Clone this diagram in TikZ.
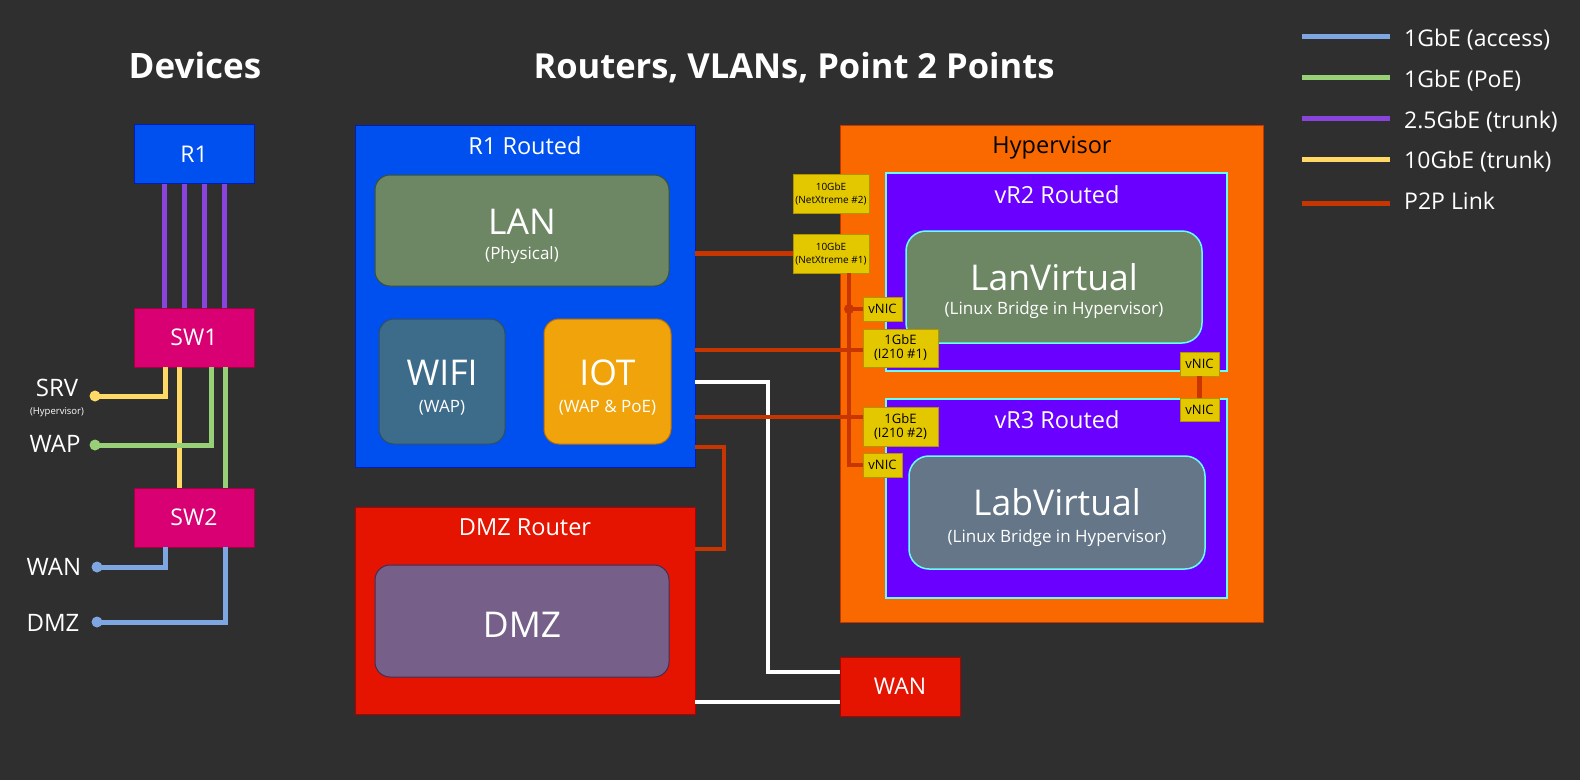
\documentclass[tikz,border=0pt]{standalone}
\usepackage{fontspec}
\setmainfont{Open Sans}
\usetikzlibrary{calc}
\definecolor{bg}{HTML}{2F2F2F}
\definecolor{rblue}{HTML}{0050EF}
\definecolor{rstroke}{HTML}{001DBC}
\definecolor{swfill}{HTML}{D80073}
\definecolor{swstroke}{HTML}{A50040}
\definecolor{lang}{HTML}{6D8764}
\definecolor{langs}{HTML}{3A5431}
\definecolor{wifi}{HTML}{3D6B8A}
\definecolor{wifis}{HTML}{2F4F5F}
\definecolor{iot}{HTML}{F0A30A}
\definecolor{iots}{HTML}{BD7000}
\definecolor{dred}{HTML}{E51400}
\definecolor{dreds}{HTML}{B20000}
\definecolor{dmzp}{HTML}{76608A}
\definecolor{dmzps}{HTML}{432D57}
\definecolor{hyp}{HTML}{FA6800}
\definecolor{hyps}{HTML}{C73500}
\definecolor{vr}{HTML}{6A00FF}
\definecolor{cyanl}{HTML}{66FFFF}
\definecolor{labg}{HTML}{647687}
\definecolor{nicf}{HTML}{E3C800}
\definecolor{nics}{HTML}{B09500}
\definecolor{p2pc}{HTML}{C73500}
\definecolor{lpurple}{HTML}{8844DD}
\definecolor{lyellow}{HTML}{FFD966}
\definecolor{lgreen}{HTML}{97D077}
\definecolor{lblue}{HTML}{7EA6E0}
\newcommand\myfs[1]{\fontsize{#1}{#1}\selectfont}
\tikzset{
  base/.style={inner sep=0pt, outer sep=0pt, line width=1pt, text=white},
  devbox/.style={base, minimum width=120, minimum height=59, font={\myfs{23}}},
  vlanbox/.style={base, rounded corners=15pt},
  nic/.style={base, draw=nics, fill=nicf, text=black, line width=0.8pt},
  vrbox/.style={base, draw=cyanl, line width=1.5pt, fill=vr},
  txt/.style={inner sep=0pt, text=white, anchor=base},
  ctitle/.style={txt, font={\myfs{23.5}}},
  sidel/.style={txt, font={\myfs{24}}},
  bigt/.style={txt, font={\myfs{35.5}}},
  subt/.style={txt, font={\myfs{17}}},
  lnk/.style={line width=5pt},
  p2p/.style={draw=p2pc, line width=4.5pt},
  wire/.style={draw=white, line width=4pt},
}
\begin{document}
\begin{tikzpicture}[x=1pt,y=-1pt]
\fill[bg] (0,0) rectangle (1580,780);
\useasboundingbox (0,0) rectangle (1580,780);

% titles
\node[txt, font={\bfseries\myfs{35}}] (tdev) at (195,78) {Devices};
\node[txt, font={\bfseries\myfs{34.5}}] (trout) at (794,78) {Routers, VLANs, Point 2 Points};

% devices
\node[devbox, draw=rstroke, fill=rblue] (r1) at (194,154) {R1};
\node[devbox, draw=swstroke, fill=swfill] (sw1) at (194,337.5) {SW1};
\node[devbox, draw=swstroke, fill=swfill] (sw2) at (194,517.5) {SW2};

\foreach \s in {-30,-10,10,30}
  \draw[lnk, lpurple] ([xshift=\s pt]r1.south) -- ([xshift=\s pt]sw1.north);

\coordinate (srvdot) at (95,396);
\coordinate (wapdot) at (95,445);
\coordinate (wandot) at (97,567);
\coordinate (dmzdot) at (97,622);

\draw[lnk, lyellow] ([xshift=-29pt]sw1.south) |- (srvdot);
\draw[lnk, lyellow] ([xshift=-15pt]sw1.south) -- ([xshift=-15pt]sw2.north);
\draw[lnk, lgreen] ([xshift=17pt]sw1.south) |- (wapdot);
\draw[lnk, lgreen] ([xshift=31pt]sw1.south) -- ([xshift=31pt]sw2.north);
\draw[lnk, lblue] ([xshift=-29pt]sw2.south) |- (wandot);
\draw[lnk, lblue] ([xshift=31pt]sw2.south) |- (dmzdot);
\fill[lyellow] (srvdot) circle (5.5);
\fill[lgreen] (wapdot) circle (5.5);
\fill[lblue] (wandot) circle (5.5);
\fill[lblue] (dmzdot) circle (5.5);

\node[sidel] (lsrv) at (57,396) {SRV};
\node[txt, font={\myfs{9.5}}] (lsrvh) at (57,414) {(Hypervisor)};
\node[sidel] (lwap) at (55,452) {WAP};
\node[sidel] (lwan) at (54,575) {WAN};
\node[sidel] (ldmz) at (53,631) {DMZ};

% R1 routed
\node[base, draw=rstroke, fill=rblue, minimum width=340, minimum height=342] (r1r) at (525,296) {};
\node[ctitle] (r1rT) at (525,154) {R1 Routed};
\node[vlanbox, draw=langs, fill=lang, minimum width=294, minimum height=111] (lan) at (522,230.5) {};
\node[bigt] (lanT) at (522,234) {LAN};
\node[subt] (lanS) at (522,259) {(Physical)};
\node[vlanbox, draw=wifis, fill=wifi, minimum width=126, minimum height=125] (wifi) at (442,381.5) {};
\node[bigt] (wifiT) at (442,385) {WIFI};
\node[subt] (wifiS) at (442,412) {(WAP)};
\node[vlanbox, draw=iots, fill=iot, minimum width=127, minimum height=125] (iot) at (607.5,381.5) {};
\node[bigt] (iotT) at (607.5,385) {IOT};
\node[subt] (iotS) at (607.5,412) {(WAP \& PoE)};

% DMZ router
\node[base, draw=dreds, fill=dred, minimum width=340, minimum height=207] (dmzr) at (525,610.5) {};
\node[ctitle] (dmzrT) at (525,535.5) {DMZ Router};
\node[vlanbox, draw=dmzps, fill=dmzp, minimum width=294, minimum height=112] (dmz) at (522,621) {};
\node[bigt] (dmzT) at (522,637) {DMZ};

% Hypervisor
\node[base, draw=hyps, fill=hyp, minimum width=423, minimum height=497] (hyp) at (1051.5,373.5) {};
\node[ctitle, text=black] (hypT) at (1052,153) {Hypervisor};
\node[vrbox, minimum width=341, minimum height=198] (vr2) at (1056.5,272) {};
\node[ctitle] (vr2T) at (1057,203) {vR2 Routed};
\node[vrbox, minimum width=341, minimum height=199] (vr3) at (1056.5,498.5) {};
\node[ctitle] (vr3T) at (1057,428) {vR3 Routed};
\node[vlanbox, draw=cyanl, line width=1.5pt, fill=lang, rounded corners=20pt, minimum width=296, minimum height=112] (lanv) at (1054,287) {};
\node[bigt] (lanvT) at (1054,290) {LanVirtual};
\node[subt] (lanvS) at (1054,314) {(Linux Bridge in Hypervisor)};
\node[vlanbox, draw=cyanl, line width=1.5pt, fill=labg, rounded corners=20pt, minimum width=296, minimum height=113] (labv) at (1057,512.5) {};
\node[bigt] (labvT) at (1057,515) {LabVirtual};
\node[subt] (labvS) at (1057,542) {(Linux Bridge in Hypervisor)};

% WAN
\node[devbox, draw=dreds, fill=dred, minimum width=120, minimum height=59] (wan) at (900,686.5) {WAN};

% NIC labels
\node[nic, minimum width=76, minimum height=39, align=center, font={\myfs{10}}] (nx2) at (831,193.5) {10GbE\\[3pt](NetXtreme \#2)};
\node[nic, minimum width=76, minimum height=39, align=center, font={\myfs{10}}] (nx1) at (831,253.5) {10GbE\\[3pt](NetXtreme \#1)};
\node[nic, minimum width=39, minimum height=24, font={\myfs{13}}] (vnicA) at (882.5,309) {vNIC};
\node[nic, minimum width=75, minimum height=38, align=center, font={\myfs{13}}] (i1) at (900.5,348) {1GbE\\[1pt](I210 \#1)};
\node[nic, minimum width=75, minimum height=39, align=center, font={\myfs{13}}] (i2) at (900.5,426.5) {1GbE\\[1pt](I210 \#2)};
\node[nic, minimum width=39, minimum height=24, font={\myfs{13}}] (vnicB) at (882.5,465) {vNIC};
\node[nic, minimum width=39, minimum height=24, font={\myfs{13}}] (vnicC) at (1199.5,364) {vNIC};
\node[nic, minimum width=39, minimum height=23, font={\myfs{13}}] (vnicD) at (1199.5,409.5) {vNIC};

% white WAN links
\draw[wire] ([yshift=85pt]r1r.south east) -- ++(73,0) |- ([yshift=14.5pt]wan.west);
\coordinate (w2) at ([yshift=12pt]dmzr.south east);
\draw[wire] (w2) -- (wan.west |- w2);

% P2P links
\draw[p2p] (nx1.west) -- (r1r.east |- nx1.west);
\coordinate (i1in) at ([yshift=-2pt]i1.west);
\draw[p2p] (i1in) -- (r1r.east |- i1in);
\coordinate (i2in) at ([yshift=9.5pt]i2.west);
\draw[p2p] (i2in) -- (r1r.east |- i2in);
\coordinate (vtop) at ([xshift=18pt]nx1.south);
\draw[p2p] (vtop) |- (vnicB.west);
\draw[p2p] (vnicA.west) -- (vtop |- vnicA.west);
\fill[p2pc] (vtop |- vnicA.west) circle (5);
\draw[p2p] ([yshift=20pt]r1r.south east) -- ++(29,0) |- ([yshift=-42pt]dmzr.north east);
\draw[p2p] (vnicC.south) -- (vnicD.north);

% legend
\foreach \y/\b/\c/\t [count=\i] in {36/46/lblue/1GbE (access), 77/87/lgreen/1GbE (PoE), 118/128/lpurple/2.5GbE (trunk), 159/168/lyellow/10GbE (trunk), 203/209/p2pc/P2P Link}{
  \coordinate (lg\i) at (1302,\y);
  \draw[line width=5pt, \c] (lg\i) -- ++(88,0);
  \node[txt, anchor=base west, font={\myfs{23}}] (lgt\i) at (1404,\b) {\t};
}
\end{tikzpicture}
\end{document}
